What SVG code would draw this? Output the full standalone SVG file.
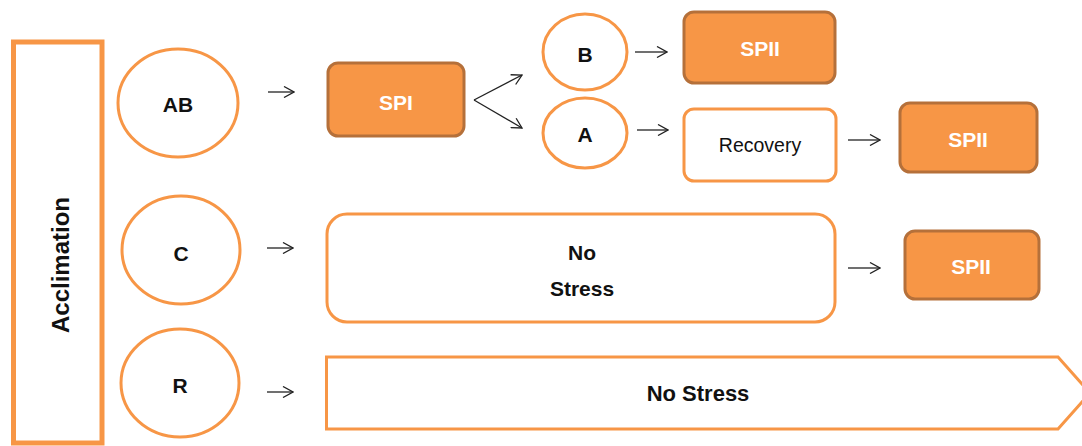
<svg xmlns="http://www.w3.org/2000/svg" width="1082" height="446" viewBox="0 0 1082 446">
<style>
.ring{fill:#fff;stroke:#F79646;stroke-width:3}
.box{fill:#fff;stroke:#F79646;stroke-width:3}
.fill{fill:#F79646;stroke:#B5703A;stroke-width:3}
.lbl{font-family:"Liberation Sans",Arial,sans-serif;font-weight:bold;font-size:21px;fill:#111;text-anchor:middle;dominant-baseline:central}
.wlbl{font-family:"Liberation Sans",Arial,sans-serif;font-weight:bold;font-size:21px;fill:#fff;text-anchor:middle;dominant-baseline:central}
.conn{stroke:#222;stroke-width:1.3;fill:none;marker-end:url(#ah)}
</style>
<defs>
<marker id="ah" viewBox="0 0 12 12" refX="11" refY="6" markerWidth="12" markerHeight="12" markerUnits="userSpaceOnUse" orient="auto">
<path d="M1,0.5 L11,6 L1,11.5" fill="none" stroke="#222" stroke-width="1.3"/>
</marker>
</defs>
<rect width="1082" height="446" fill="#fff"/>
<g id="acclimation">
<rect x="13.5" y="42" width="88.5" height="401" fill="#fff" stroke="#F79646" stroke-width="5"/>
<text class="lbl" style="font-size:24px" transform="translate(60,265) rotate(-90)">Acclimation</text>
</g>
<g id="node-AB"><ellipse class="ring" cx="178" cy="103" rx="60" ry="54"/><text class="lbl" x="178" y="104">AB</text></g>
<g id="node-SPI"><rect class="fill" x="328" y="63" width="136" height="73" rx="10"/><text class="wlbl" x="396" y="102">SPI</text></g>
<g id="node-B"><ellipse class="ring" cx="585" cy="52" rx="42" ry="38"/><text class="lbl" x="585" y="54">B</text></g>
<g id="node-A"><ellipse class="ring" cx="585" cy="133" rx="42" ry="35"/><text class="lbl" x="585" y="134">A</text></g>
<g id="node-SPII-1"><rect class="fill" x="684" y="12" width="151" height="71" rx="10"/><text class="wlbl" x="760" y="48">SPII</text></g>
<g id="node-recovery"><rect class="box" x="684" y="109" width="152" height="72" rx="10"/><text class="lbl" style="font-weight:normal;font-size:19.5px" x="760" y="145">Recovery</text></g>
<g id="node-SPII-2"><rect class="fill" x="900" y="103" width="137" height="69" rx="10"/><text class="wlbl" x="968" y="139">SPII</text></g>
<g id="node-C"><ellipse class="ring" cx="181" cy="250" rx="59" ry="54"/><text class="lbl" x="181" y="253">C</text></g>
<g id="node-nostress-1"><rect class="box" x="327" y="214" width="508" height="108" rx="20"/><text class="lbl" x="582" y="252">No</text><text class="lbl" x="582" y="288">Stress</text></g>
<g id="node-SPII-3"><rect class="fill" x="905" y="231" width="134" height="68" rx="10"/><text class="wlbl" x="971" y="266">SPII</text></g>
<g id="node-R"><ellipse class="ring" cx="180" cy="383" rx="59" ry="54"/><text class="lbl" x="180" y="385">R</text></g>
<g id="node-nostress-2"><path d="M326.5,357 L1058,357 L1090,393 L1058,429 L326.5,429 Z" fill="#fff" stroke="#F79646" stroke-width="3"/><text class="lbl" style="font-size:22px" x="698" y="393">No Stress</text></g>
<g id="connectors">
<line class="conn" x1="268" y1="92" x2="294" y2="92"/>
<line class="conn" x1="474" y1="100" x2="522" y2="75"/>
<line class="conn" x1="474" y1="100" x2="522" y2="128"/>
<line class="conn" x1="635" y1="52" x2="667" y2="52"/>
<line class="conn" x1="637" y1="130" x2="668" y2="130"/>
<line class="conn" x1="848" y1="140" x2="880" y2="140"/>
<line class="conn" x1="267" y1="248" x2="293" y2="248"/>
<line class="conn" x1="848" y1="268" x2="880" y2="268"/>
<line class="conn" x1="267" y1="392" x2="293" y2="392"/>
</g>
</svg>
